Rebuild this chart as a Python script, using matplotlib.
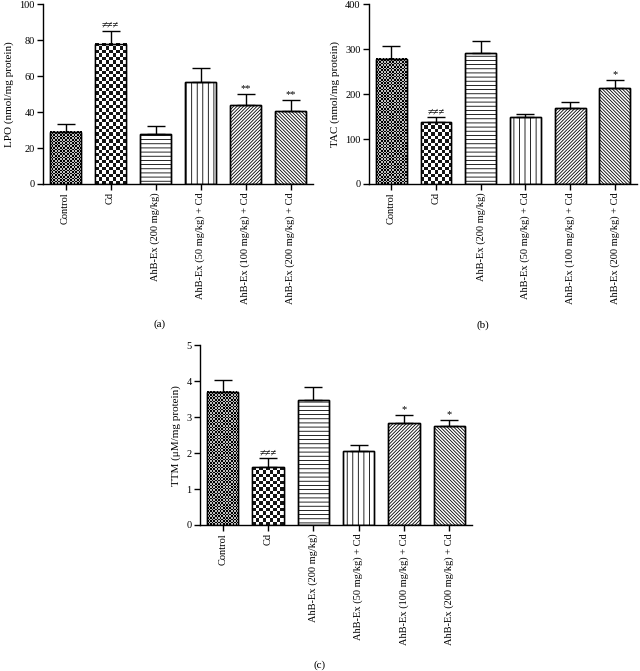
import matplotlib
matplotlib.use("Agg")
import matplotlib.pyplot as plt
import numpy as np

plt.rcParams["font.family"] = ["Liberation Serif", "DejaVu Serif"]
plt.rcParams["font.size"] = 7.5

# --- data ---
groups = [
    "Control",
    "Cd",
    "AhB-Ex (200 mg/kg)",
    "AhB-Ex (50 mg/kg) + Cd",
    "AhB-Ex (100 mg/kg) + Cd",
    "AhB-Ex (200 mg/kg) + Cd",
]

lpo_mean = [29.0, 78.0, 27.7, 56.9, 43.7, 40.8]
lpo_err = [4.3, 7.3, 4.6, 7.8, 6.6, 5.7]
lpo_sig = ["", "≠≠≠", "", "", "**", "**"]

tac_mean = [279, 137, 292, 150, 169, 214]
tac_err = [28, 11, 26, 6, 14, 18]
tac_sig = ["", "≠≠≠", "", "", "", "*"]

ttm_mean = [3.70, 1.61, 3.48, 2.07, 2.83, 2.76]
ttm_err = [0.32, 0.24, 0.37, 0.15, 0.22, 0.17]
ttm_sig = ["", "≠≠≠", "", "", "*", "*"]

# fill style per group: (kind, arg)
styles = [
    ("checker", 1.6),
    ("checker", 3.4),
    ("hatch", "----"),
    ("hatch", "|||"),
    ("hatch", "/" * 10),
    ("hatch", "\\" * 10),
]

plt.rcParams["hatch.linewidth"] = 0.6

fig = plt.figure(figsize=(6.4, 6.71), dpi=100)


def checker_fill(ax, bar, cell_px, fine):
    ax.figure.canvas.draw()
    x0, y0 = bar.get_x(), bar.get_y()
    w, h = bar.get_width(), bar.get_height()
    p0 = ax.transData.transform((x0, y0))
    p1 = ax.transData.transform((x0 + w, y0 + h))
    nx = max(1, int(round(abs(p1[0] - p0[0]) / cell_px)))
    ny = max(1, int(round(abs(p1[1] - p0[1]) / cell_px)))
    img = (np.add.outer(np.arange(ny), np.arange(nx)) % 2).astype(float)
    if fine:
        img = img * 0.75  # fine checker reads as dark grey
    else:
        img = 0.08 + img * 0.92
    ax.imshow(img, cmap="gray", vmin=0, vmax=1, extent=(x0, x0 + w, y0, y0 + h),
              aspect="auto", interpolation="nearest", zorder=2.2)


def panel(rect, means, errs, sigs, ymax, ystep, ylabel, tag, tagpos):
    ax = fig.add_axes(rect)
    x = np.arange(len(groups))
    ax.set_xlim(-0.5, len(groups) - 0.5)
    ax.set_ylim(0, ymax)
    bars = ax.bar(x, means, width=0.69, facecolor="white", edgecolor="black",
                  linewidth=1.0, zorder=2)
    for b, (kind, arg) in zip(bars, styles):
        if kind == "hatch":
            b.set_hatch(arg)
    ax.errorbar(x, means, yerr=[np.zeros(len(means)), errs], fmt="none",
                ecolor="black", elinewidth=1.0, capsize=6.5, capthick=1.0, zorder=3)
    for b, (kind, arg) in zip(bars, styles):
        if kind == "checker":
            checker_fill(ax, b, arg, arg < 2)
    ax.set_xlim(-0.5, len(groups) - 0.5)
    ax.set_ylim(0, ymax)
    # redraw outlines on top of checker images
    ax.bar(x, means, width=0.69, facecolor="none", edgecolor="black",
           linewidth=1.0, zorder=2.5)
    for xi, m, e, s in zip(x, means, errs, sigs):
        if s:
            ax.text(xi, m + e + ymax * 0.005, s, ha="center", va="bottom", fontsize=7.5)
    ax.set_yticks(np.arange(0, ymax + ystep / 2, ystep))
    ax.set_xticks(x)
    ax.set_xticklabels(groups, rotation=90)
    ax.set_ylabel(ylabel, fontsize=8, labelpad=4)
    for sp in ["top", "right"]:
        ax.spines[sp].set_visible(False)
    for sp in ["left", "bottom"]:
        ax.spines[sp].set_linewidth(1.0)
    ax.tick_params(direction="out", length=4, width=1.0, pad=2)
    fig.text(tagpos[0], tagpos[1], tag, ha="center", va="center", fontsize=8)
    return ax


panel([0.0672, 0.7258, 0.422, 0.268], lpo_mean, lpo_err, lpo_sig, 100, 20,
      "LPO (nmol/mg protein)", "(a)", (0.25, 1 - 324 / 671))
panel([0.5766, 0.7258, 0.419, 0.268], tac_mean, tac_err, tac_sig, 400, 100,
      "TAC (nmol/mg protein)", "(b)", (0.755, 1 - 325 / 671))
panel([0.3125, 0.2176, 0.425, 0.268], ttm_mean, ttm_err, ttm_sig, 5, 1,
      "TTM (μM/mg protein)", "(c)", (0.5, 1 - 665 / 671))

fig.savefig("out.png", dpi=100)
